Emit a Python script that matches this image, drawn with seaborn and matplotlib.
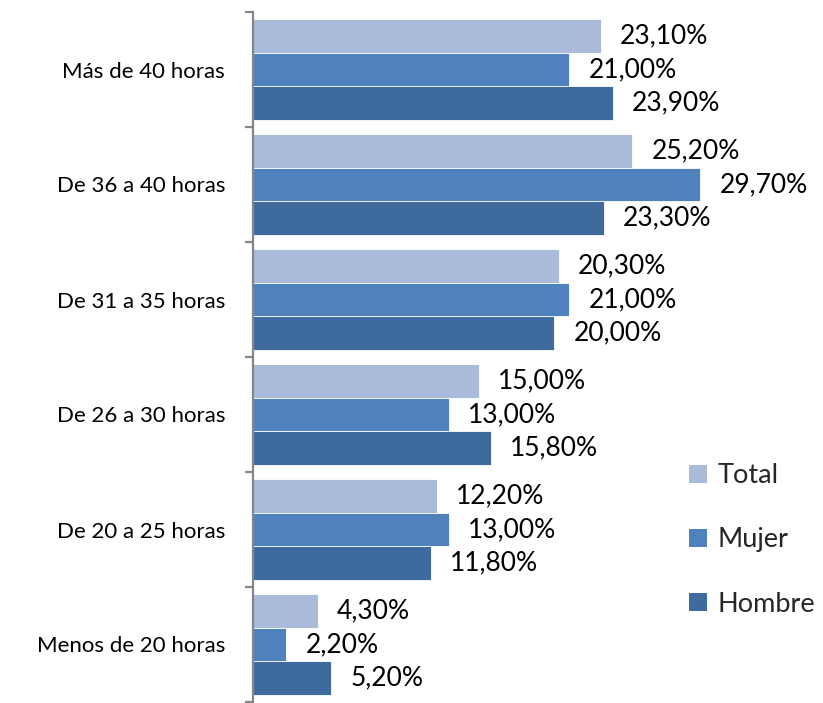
import matplotlib
matplotlib.use("Agg")
import matplotlib.pyplot as plt
import seaborn as sns
import pandas as pd
import numpy as np
from matplotlib.patches import Patch

categories = ["Más de 40 horas", "De 36 a 40 horas", "De 31 a 35 horas",
              "De 26 a 30 horas", "De 20 a 25 horas", "Menos de 20 horas"]
series = ["Total", "Mujer", "Hombre"]
total = [23.1, 25.2, 20.3, 15.0, 12.2, 4.3]
mujer = [21.0, 29.7, 21.0, 13.0, 13.0, 2.2]
hombre = [23.9, 23.3, 20.0, 15.8, 11.8, 5.2]
colors = ["#AABADA", "#4F81BD", "#3F6A9E"]

rows = []
for s, vals in zip(series, [total, mujer, hombre]):
    for c, v in zip(categories, vals):
        rows.append({"cat": c, "serie": s, "val": v})
df = pd.DataFrame(rows)

sns.set_theme(style="white")
plt.rcParams['font.family'] = ['Lato', 'DejaVu Sans']

fig = plt.figure(figsize=(8.23, 7.03), dpi=100)
ax = fig.add_axes([253/823, 1/703, 1 - 253/823, 1 - 13/703])

sns.barplot(data=df, y="cat", x="val", hue="serie", order=categories,
            hue_order=series, palette=colors, orient="h", width=0.87,
            edgecolor="white", linewidth=0.6, saturation=1, ax=ax, legend=False)

for cont in ax.containers:
    ax.bar_label(cont, labels=[f"{b.get_width():.2f}%".replace(".", ",") for b in cont],
                 padding=14, fontsize=19, color="black")

ax.set_xlim(0, (823 - 253) / 15.05)
ax.set_ylim(len(categories) - 0.5, -0.5)
ax.set_xlabel("")
ax.set_ylabel("")
ax.set_xticks([])
for sp in ["top", "right", "bottom"]:
    ax.spines[sp].set_visible(False)
ax.spines["left"].set_color("#868686")
ax.spines["left"].set_linewidth(1.6)

ax.tick_params(axis="y", which="major", left=False, length=0, pad=20,
               labelsize=16, labelcolor="black")
ax.set_yticks(np.arange(len(categories) + 1) - 0.5, minor=True)
ax.tick_params(axis="y", which="minor", left=True, length=6, width=1.6,
               color="#868686", direction="out")

handles = [Patch(facecolor=c, edgecolor="none", label=s) for c, s in zip(colors, series)]
fig.legend(handles=handles, loc="center left", bbox_to_anchor=(689/823, 1 - 540/703),
           frameon=False, fontsize=19.5, handlelength=0.65, handleheight=0.65,
           handletextpad=0.4, labelspacing=1.45, borderaxespad=0, borderpad=0)

fig.savefig("out.png", dpi=100)
